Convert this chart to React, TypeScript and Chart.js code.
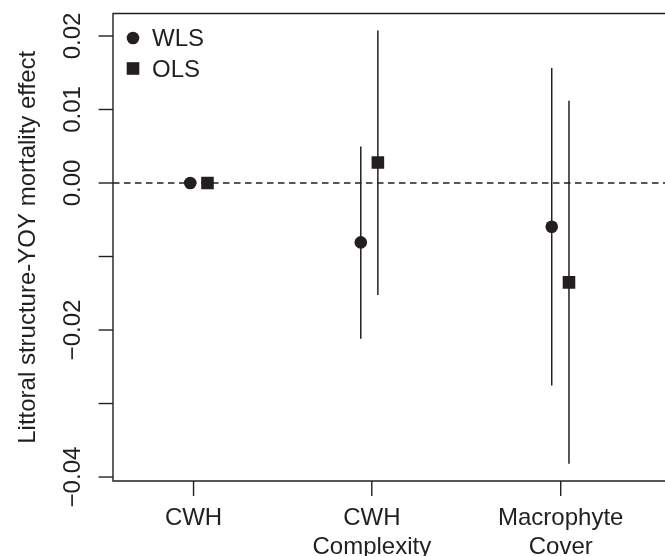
import React, { useEffect, useRef } from "react";
import { Chart, registerables } from "chart.js";

Chart.register(...registerables);

// ---- data ----
const categoryLabels: string[][] = [["CWH"], ["CWH", "Complexity"], ["Macrophyte", "Cover"]];
const categoryPositions = [1, 1.971, 3];
const seriesNames = ["WLS", "OLS"];
const wlsX = [0.982, 1.911, 2.951];
const olsX = [1.076, 2.004, 3.045];
const wlsEstimate = [0, -0.00808, -0.00595];
const wlsLower: (number | null)[] = [null, -0.02118, -0.02754];
const wlsUpper: (number | null)[] = [null, 0.00498, 0.01565];
const olsEstimate = [0, 0.0028, -0.01352];
const olsLower: (number | null)[] = [null, -0.01524, -0.03819];
const olsUpper: (number | null)[] = [null, 0.02076, 0.0112];
const yTicks = [-0.04, -0.03, -0.02, -0.01, 0, 0.01, 0.02];
const yTickLabels = ["\u22120.04", "", "\u22120.02", "", "0.00", "0.01", "0.02"];
const yTitle = "Littoral structure-YOY mortality effect";

const Y_MIN = -0.04054;
const Y_MAX = 0.02306;
const X_MIN = 0.5613;
const X_MAX = 3.568;

const INK = "#231f20";
const FONT = '24px "Liberation Sans", Arial, sans-serif';

function errorBarData(xs: number[], lo: (number | null)[], hi: (number | null)[]) {
  const out: { x: number; y: number | null }[] = [];
  xs.forEach((x, i) => {
    if (lo[i] == null || hi[i] == null) return;
    out.push({ x, y: lo[i] as number });
    out.push({ x, y: hi[i] as number });
    out.push({ x, y: null });
  });
  return out;
}

const decorPlugin = {
  id: "decor",
  afterDraw(chart: any) {
    const ctx: CanvasRenderingContext2D = chart.ctx;
    const { left, top, right, bottom } = chart.chartArea;
    const xs = chart.scales.x;
    const ys = chart.scales.y;
    ctx.save();
    ctx.strokeStyle = INK;
    ctx.fillStyle = INK;
    ctx.lineWidth = 1.4;
    // box (right side lies beyond the canvas)
    ctx.beginPath();
    ctx.moveTo(right + 4, top);
    ctx.lineTo(left, top);
    ctx.lineTo(left, bottom);
    ctx.lineTo(right + 4, bottom);
    ctx.stroke();

    ctx.font = FONT;
    // y ticks + rotated labels
    yTicks.forEach((v, i) => {
      const py = ys.getPixelForValue(v);
      ctx.beginPath();
      ctx.moveTo(left - 14.4, py);
      ctx.lineTo(left, py);
      ctx.stroke();
      if (yTickLabels[i]) {
        ctx.save();
        ctx.translate(left - 33, py);
        ctx.rotate(-Math.PI / 2);
        ctx.textAlign = "center";
        ctx.textBaseline = "alphabetic";
        ctx.fillText(yTickLabels[i], 0, 0);
        ctx.restore();
      }
    });
    // y title
    ctx.save();
    ctx.translate(left - 78, (top + bottom) / 2);
    ctx.rotate(-Math.PI / 2);
    ctx.textAlign = "center";
    ctx.textBaseline = "alphabetic";
    ctx.fillText(yTitle, 0, 0);
    ctx.restore();

    // x ticks + labels
    categoryPositions.forEach((v, i) => {
      const px = xs.getPixelForValue(v);
      ctx.beginPath();
      ctx.moveTo(px, bottom);
      ctx.lineTo(px, bottom + 15);
      ctx.stroke();
      ctx.textAlign = "center";
      ctx.textBaseline = "alphabetic";
      categoryLabels[i].forEach((t, j) => {
        ctx.fillText(t, px, bottom + 44 + j * 28.8);
      });
    });

    // legend
    const mx = left + 20;
    ctx.beginPath();
    ctx.arc(mx, top + 24.5, 6.3, 0, Math.PI * 2);
    ctx.fill();
    ctx.fillRect(mx - 6.3, top + 55 - 6.3, 12.6, 12.6);
    ctx.textAlign = "left";
    ctx.fillText(seriesNames[0], left + 39, top + 32.5);
    ctx.fillText(seriesNames[1], left + 39, top + 63.5);
    ctx.restore();
  },
};

export default function App() {
  const canvasRef = useRef<HTMLCanvasElement | null>(null);

  useEffect(() => {
    const canvas = canvasRef.current;
    if (!canvas) return;
    const chart = new Chart(canvas, {
      type: "scatter",
      data: {
        datasets: [
          {
            label: seriesNames[0],
            data: wlsX.map((x, i) => ({ x, y: wlsEstimate[i] })),
            pointStyle: "circle",
            pointRadius: 6.3,
            pointBorderWidth: 0,
            backgroundColor: INK,
            borderColor: INK,
            order: 0,
          },
          {
            label: seriesNames[1],
            data: olsX.map((x, i) => ({ x, y: olsEstimate[i] })),
            pointStyle: "rect",
            pointRadius: 8.9,
            pointBorderWidth: 0,
            backgroundColor: INK,
            borderColor: INK,
            order: 0,
          },
          {
            label: "WLS CI",
            data: errorBarData(wlsX, wlsLower, wlsUpper) as any,
            showLine: true,
            spanGaps: false,
            pointRadius: 0,
            borderColor: INK,
            borderWidth: 1.5,
            order: 1,
          },
          {
            label: "OLS CI",
            data: errorBarData(olsX, olsLower, olsUpper) as any,
            showLine: true,
            spanGaps: false,
            pointRadius: 0,
            borderColor: INK,
            borderWidth: 1.5,
            order: 1,
          },
          {
            label: "zero",
            data: [
              { x: X_MIN, y: 0 },
              { x: X_MAX, y: 0 },
            ],
            showLine: true,
            pointRadius: 0,
            borderColor: INK,
            borderWidth: 1.3,
            borderDash: [6.5, 4.5],
            order: 2,
          },
        ],
      },
      options: {
        animation: false,
        responsive: false,
        maintainAspectRatio: false,
        devicePixelRatio: 1,
        layout: { autoPadding: false, padding: { left: 113, top: 13.5, right: 0, bottom: 75 } },
        plugins: { legend: { display: false }, tooltip: { enabled: false } },
        scales: {
          x: { type: "linear", min: X_MIN, max: X_MAX, display: false },
          y: { type: "linear", min: Y_MIN, max: Y_MAX, display: false },
        },
      },
      plugins: [decorPlugin],
    });
    return () => chart.destroy();
  }, []);

  return (
    <div style={{ position: "absolute", left: 0, top: 0, width: 665, height: 556, background: "#fff" }}>
      <canvas ref={canvasRef} width={665} height={556} style={{ display: "block" }} />
    </div>
  );
}
